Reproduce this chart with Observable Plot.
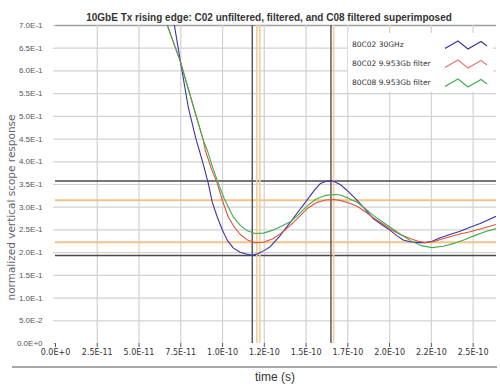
<!DOCTYPE html>
<html><head><meta charset="utf-8">
<script src="https://cdn.jsdelivr.net/npm/d3@7"></script>
<script src="https://cdn.jsdelivr.net/npm/@observablehq/plot@0.6"></script>
<style>
body{margin:0;background:#fff;font-family:"Liberation Sans",Arial,sans-serif;}
#wrap{position:relative;width:500px;height:387px;overflow:hidden;}
#sep{position:absolute;left:12px;top:366px;width:485px;border-top:2px solid #a8a8a8;}
#xl{position:absolute;top:370px;left:275px;transform:translateX(-50%);font-size:12px;color:#333;white-space:nowrap;}
#legend{position:absolute;left:348px;top:33px;width:145px;height:59px;background:#fff;}
.li{position:absolute;left:4px;font-family:"DejaVu Sans",sans-serif;font-size:7.5px;color:#333;white-space:nowrap;}
</style></head>
<body><div id="wrap"><div id="chart"></div><div id="sep"></div><div id="xl"></div><div id="legend"></div></div>
<script>
const title = "10GbE Tx rising edge: C02 unfiltered, filtered, and C08 filtered superimposed";
const xLabel = "time (s)";
const yLabel = "normalized vertical scope response";
const seriesNames = ["80C02 30GHz", "80C02 9.953Gb filter", "80C08 9.953Gb filter"];
const seriesColors = ["#3b33a6", "#e0523c", "#40ae4c"];

const xTicks = [0, 2.5e-11, 5.0e-11, 7.5e-11, 1.0e-10, 1.25e-10, 1.5e-10, 1.75e-10, 2.0e-10, 2.25e-10, 2.5e-10];
const xTickLabels = ["0.0E+0","2.5E-11","5.0E-11","7.5E-11","1.0E-10","1.2E-10","1.5E-10","1.7E-10","2.0E-10","2.2E-10","2.5E-10"];
const yTicks = [0, 0.05, 0.1, 0.15, 0.2, 0.25, 0.3, 0.35, 0.4, 0.45, 0.5, 0.55, 0.6, 0.65, 0.7];
const yTickLabels = ["0.0E+0","5.0E-2","1.0E-1","1.5E-1","2.0E-1","2.5E-1","3.0E-1","3.5E-1","4.0E-1","4.5E-1","5.0E-1","5.5E-1","6.0E-1","6.5E-1","7.0E-1"];

const blueT = [6.88e-11,7.12e-11,7.48e-11,7.95e-11,8.43e-11,8.61e-11,8.88e-11,9.15e-11,9.39e-11,9.69e-11,9.99e-11,10.29e-11,10.65e-11,11.06e-11,11.42e-11,11.78e-11,12.14e-11,12.50e-11,12.86e-11,13.46e-11,14.06e-11,14.53e-11,15.07e-11,15.49e-11,15.85e-11,16.21e-11,16.57e-11,17.05e-11,17.52e-11,18.06e-11,18.54e-11,19.02e-11,19.56e-11,20.04e-11,20.45e-11,20.81e-11,21.23e-11,21.71e-11,22.13e-11,22.55e-11,23.03e-11,23.62e-11,24.22e-11,24.82e-11,25.42e-11,26.02e-11,26.38e-11];
const blueV = [0.75,0.70,0.62,0.52,0.447,0.425,0.39,0.352,0.31,0.278,0.25,0.227,0.21,0.201,0.197,0.194,0.198,0.205,0.213,0.238,0.267,0.29,0.316,0.337,0.352,0.357,0.358,0.350,0.335,0.315,0.295,0.275,0.261,0.249,0.237,0.228,0.224,0.222,0.222,0.225,0.233,0.24,0.247,0.256,0.264,0.274,0.28];

const redT = [6.28e-11,6.70e-11,7.48e-11,8.19e-11,8.85e-11,8.97e-11,9.33e-11,9.69e-11,9.99e-11,10.35e-11,10.71e-11,11.06e-11,11.48e-11,11.96e-11,12.44e-11,12.98e-11,13.52e-11,14.06e-11,14.53e-11,15.07e-11,15.61e-11,16.15e-11,16.63e-11,17.05e-11,17.52e-11,18.06e-11,18.54e-11,19.02e-11,19.56e-11,20.04e-11,20.63e-11,21.23e-11,21.71e-11,22.13e-11,22.61e-11,23.03e-11,23.62e-11,24.22e-11,24.82e-11,25.42e-11,26.02e-11,26.38e-11];
const redV = [0.75,0.70,0.62,0.53,0.447,0.425,0.385,0.352,0.315,0.278,0.256,0.24,0.228,0.222,0.223,0.23,0.243,0.26,0.277,0.297,0.31,0.316,0.317,0.315,0.31,0.302,0.29,0.277,0.264,0.252,0.24,0.231,0.225,0.222,0.224,0.229,0.235,0.241,0.246,0.252,0.258,0.262];

const greenT = [6.28e-11,6.70e-11,7.48e-11,8.19e-11,8.85e-11,9.09e-11,9.39e-11,9.75e-11,10.11e-11,10.65e-11,11.06e-11,11.48e-11,11.96e-11,12.44e-11,12.98e-11,13.52e-11,14.06e-11,14.53e-11,15.07e-11,15.61e-11,16.15e-11,16.75e-11,17.05e-11,17.52e-11,18.06e-11,18.54e-11,19.02e-11,19.56e-11,20.04e-11,20.63e-11,21.23e-11,21.83e-11,22.55e-11,23.21e-11,23.92e-11,24.52e-11,25.12e-11,25.72e-11,26.38e-11];
const greenV = [0.75,0.70,0.62,0.53,0.447,0.425,0.39,0.352,0.318,0.278,0.26,0.248,0.242,0.243,0.249,0.258,0.268,0.283,0.303,0.318,0.326,0.328,0.327,0.32,0.311,0.297,0.282,0.268,0.256,0.241,0.227,0.216,0.211,0.214,0.221,0.229,0.238,0.246,0.253];

// cursor lines
const hCursorsDark = [0.3575, 0.1938];
const hCursorsOrange = [0.3156, 0.2231];
const vCursorsDark = [1.178e-10, 1.649e-10];
const vCursorsOrange = [1.205e-10, 1.223e-10, 1.665e-10];

const rows = (T, V, s) => T.map((t, i) => ({t, v: V[i], s}));
const data = [
  ...rows(blueT, blueV, seriesNames[0]),
  ...rows(redT, redV, seriesNames[1]),
  ...rows(greenT, greenV, seriesNames[2])
];

const xFmt = d => xTickLabels[xTicks.findIndex(t => Math.abs(t - d) < 1e-15)] ?? "";
const yFmt = d => yTickLabels[yTicks.findIndex(t => Math.abs(t - d) < 1e-9)] ?? "";

const plot = Plot.plot({
  width: 500, height: 367,
  marginLeft: 55, marginRight: 4, marginTop: 25, marginBottom: 24,
  style: {fontFamily: "'Liberation Sans', Arial, sans-serif", background: "#fff", overflow: "visible"},
  x: {domain: [0, 2.64e-10]},
  y: {domain: [0, 0.7]},
  color: {domain: seriesNames, range: seriesColors},
  marks: [
    Plot.ruleY(yTicks.filter(d => d > 0 && d < 0.7), {stroke: "#d2d2d2", strokeWidth: 1.2}),
    Plot.ruleY([0.7], {stroke: "#a0a0a0", strokeWidth: 1.6}),
    Plot.ruleX(xTicks.filter(d => d > 0), {stroke: "#d2d2d2", strokeWidth: 1.2}),
    Plot.axisY({ticks: yTicks, tickFormat: yFmt, tickSize: 2, tickPadding: 11, stroke: "#cccccc", fontSize: 8, fill: "#555", label: null}),
    Plot.axisX({ticks: xTicks, tickFormat: xFmt, tickSize: 4, tickPadding: 2, stroke: "#555", fontSize: 8, fontFamily: "'DejaVu Sans', sans-serif", fill: "#333", label: null}),
    Plot.ruleY(hCursorsOrange, {stroke: "#f2c48a", strokeWidth: 2}),
    Plot.ruleY(hCursorsDark, {stroke: "#4a4a4a", strokeWidth: 1.5}),
    Plot.ruleX(vCursorsOrange, {stroke: "#f0cf9c", strokeWidth: 1.6}),
    Plot.ruleX(vCursorsDark, {stroke: "#5a5a5a", strokeWidth: 1.5}),
    Plot.line(data, {x: "t", y: "v", z: "s", stroke: "s", strokeWidth: 1.1, clip: true}),
    Plot.text([title], {frameAnchor: "top", dx: -7, dy: -12, text: d => d, fontSize: 10, fontWeight: "bold", fill: "#333"}),
    Plot.text([yLabel], {frameAnchor: "left", textAnchor: "middle", rotate: -90, dx: -44, dy: 23, text: d => d, fontSize: 10.5, fontFamily: "'DejaVu Sans', sans-serif", fill: "#666"})
  ]
});
document.getElementById("chart").appendChild(plot);
document.getElementById("xl").textContent = xLabel;

// legend
const leg = document.getElementById("legend");
const zig = "M0,7.5 L13,0 L23,8 L36,0.5 L42,5";
seriesNames.forEach((n, i) => {
  const yc = 12 + i * 19.2;
  const d = document.createElement("div");
  d.className = "li"; d.textContent = n;
  d.style.top = (yc - 5) + "px";
  leg.appendChild(d);
  const svg = d3.create("svg").attr("width", 46).attr("height", 12)
    .style("position", "absolute").style("left", "97px").style("top", (yc - 6) + "px");
  svg.append("path").attr("d", zig).attr("transform", "translate(0,2)")
    .attr("fill", "none").attr("stroke", i === 1 ? "#e47a78" : seriesColors[i]).attr("stroke-width", 1.1);
  leg.appendChild(svg.node());
});
</script></body></html>
